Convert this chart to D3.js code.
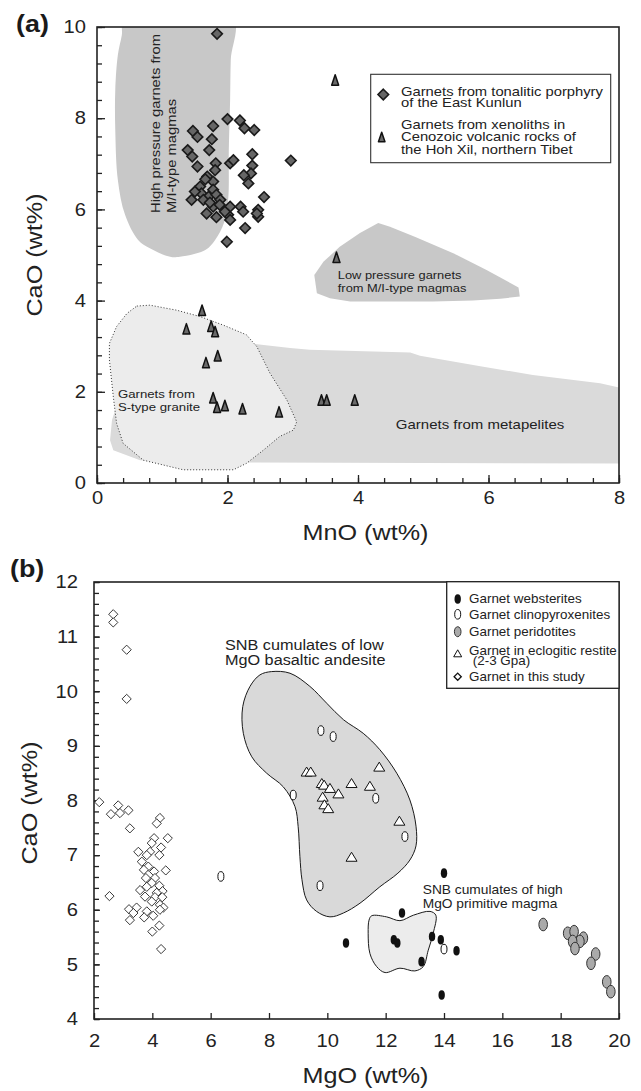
<!DOCTYPE html>
<html>
<head>
<meta charset="utf-8">
<script src="https://cdn.jsdelivr.net/npm/d3@7"></script>
<style>
  html, body { margin: 0; padding: 0; background: #fff; }
  svg { display: block; font-family: "Liberation Sans", Arial, Helvetica, sans-serif; }
</style>
</head>
<body>
<div id="chart"></div>
<script>
// ---------------- panel (a): CaO vs MnO ----------------
const aXTicks = [0, 2, 4, 6, 8];
const aYTicks = [0, 2, 4, 6, 8, 10];

// Garnets from tonalitic porphyry of the East Kunlun  [MnO, CaO]
const tonaliticGarnets = [
  [1.84, 9.85], [2.00, 7.98], [2.19, 7.95], [2.26, 7.78], [2.41, 7.74], [1.78, 7.83],
  [1.47, 7.72], [1.54, 7.59], [1.76, 7.54], [1.72, 7.30], [1.39, 7.30], [1.46, 7.16],
  [1.54, 6.94], [1.82, 7.01], [2.04, 7.01], [2.09, 7.08], [2.38, 7.21], [2.38, 6.96],
  [2.97, 7.07], [2.36, 6.79], [2.25, 6.75], [2.32, 6.57], [1.81, 6.86], [1.69, 6.72],
  [1.58, 6.50], [1.78, 6.61], [1.78, 6.43], [1.60, 6.35], [1.71, 6.28], [1.83, 6.32],
  [1.63, 6.21], [1.89, 6.21], [2.56, 6.27], [1.78, 6.06], [2.04, 6.06], [2.20, 6.06],
  [2.47, 5.99], [2.24, 5.95], [1.83, 5.83], [2.01, 5.88], [2.04, 5.77], [2.47, 5.84],
  [2.27, 5.59], [1.99, 5.29], [1.45, 6.21], [1.50, 6.39], [1.68, 5.91], [1.96, 5.95],
  [1.66, 6.66], [1.73, 6.15], [1.88, 6.10], [2.45, 5.91]
];

// Garnets from xenoliths, Hoh Xil  [MnO, CaO]
const hohXilGarnets = [
  [3.65, 8.84], [3.67, 4.95], [1.61, 3.79], [1.37, 3.38], [1.75, 3.44], [1.81, 3.32],
  [1.85, 2.79], [1.67, 2.64], [1.78, 1.87], [1.84, 1.66], [1.96, 1.70], [2.23, 1.63],
  [2.79, 1.56], [3.44, 1.82], [3.52, 1.82], [3.95, 1.82]
];

// reference fields, outlines in [MnO, CaO]
const hpField = [
  [0.42, 10.2], [2.08, 10.2], [2.05, 9.28], [2.04, 8.40], [2.02, 7.30], [2.01, 6.21],
  [1.95, 5.72], [1.81, 5.33], [1.66, 5.11], [1.27, 4.96], [1.12, 4.96], [0.81, 5.15],
  [0.63, 5.33], [0.43, 5.88], [0.32, 6.64], [0.28, 7.74], [0.28, 8.62], [0.32, 9.39],
  [0.38, 9.82]
];
const lpField = [
  [4.31, 5.70], [4.49, 5.62], [4.87, 5.40], [5.46, 5.04], [5.97, 4.67], [6.46, 4.29],
  [6.48, 4.09], [6.18, 4.04], [5.76, 4.00], [5.15, 3.98], [3.88, 3.98], [3.57, 4.05],
  [3.37, 4.16], [3.33, 4.56], [3.47, 4.85], [3.72, 5.18], [4.03, 5.48]
];
const metapeliteField = [
  [0.28, 1.60], [1.58, 2.48], [2.42, 3.05], [2.96, 2.96], [3.26, 2.92], [4.80, 2.86],
  [4.95, 2.79], [5.92, 2.55], [6.68, 2.37], [7.71, 2.19], [8.10, 2.06], [8.10, 0.43],
  [1.43, 0.45], [0.66, 0.50], [0.25, 0.72], [0.20, 0.94], [0.23, 1.38]
];
const sTypeField = [
  [0.61, 3.88], [0.81, 3.90], [1.22, 3.79], [1.58, 3.65], [1.94, 3.46], [2.29, 3.25],
  [2.45, 2.99], [2.65, 2.41], [2.91, 1.82], [3.06, 1.34], [3.01, 1.16], [2.80, 1.02],
  [2.55, 0.72], [2.29, 0.43], [2.09, 0.29], [1.32, 0.29], [0.71, 0.50], [0.40, 0.87],
  [0.30, 1.31], [0.25, 1.89], [0.19, 2.70], [0.19, 3.06], [0.30, 3.43], [0.46, 3.72]
];

const aLegend = [
  { symbol: "diamond", lines: ["Garnets from tonalitic porphyry", "of the East Kunlun"] },
  { symbol: "triangle", lines: ["Garnets from xenoliths in", "Cenozoic volcanic rocks of", "the Hoh Xil, northern Tibet"] }
];

// ---------------- panel (b): CaO vs MgO ----------------
const bXTicks = [2, 4, 6, 8, 10, 12, 14, 16, 18, 20];
const bYTicks = [4, 5, 6, 7, 8, 9, 10, 11, 12];

// [MgO, CaO]
const websterites = [
  [14.00, 6.67], [12.56, 5.94], [10.64, 5.39], [12.28, 5.45], [12.40, 5.39], [13.59, 5.51],
  [13.89, 5.45], [14.43, 5.25], [13.23, 5.05], [13.92, 4.44]
];
const clinopyroxenites = [
  [6.35, 6.61], [9.78, 9.28], [10.20, 9.17], [8.83, 8.10], [11.66, 8.04], [12.66, 7.34],
  [9.75, 6.44], [14.00, 5.28]
];
const peridotites = [
  [17.40, 5.73], [18.24, 5.57], [18.46, 5.60], [18.78, 5.48], [18.66, 5.42], [18.41, 5.42],
  [18.49, 5.29], [19.20, 5.19], [19.04, 5.02], [19.58, 4.68], [19.72, 4.50]
];
const eclogiticRestite = [
  [9.29, 8.53], [9.43, 8.53], [11.78, 8.62], [9.81, 8.32], [9.89, 8.29], [10.09, 8.23],
  [10.38, 8.13], [10.83, 8.32], [11.46, 8.27], [9.84, 8.07], [9.90, 7.93], [10.03, 7.86],
  [12.47, 7.63], [10.83, 6.97]
];
const thisStudy = [
  [2.66, 11.41], [2.66, 11.26], [3.12, 10.76], [3.12, 9.86], [2.18, 7.97], [2.58, 7.75],
  [2.83, 7.91], [2.89, 7.77], [3.18, 7.82], [3.23, 7.49], [4.26, 7.68], [4.15, 7.58],
  [4.53, 7.31], [4.06, 7.31], [3.98, 7.22], [4.30, 7.14], [3.92, 7.06], [3.52, 7.06],
  [3.81, 7.00], [4.24, 7.00], [3.64, 6.88], [3.86, 6.79], [4.46, 6.72], [3.71, 6.73],
  [4.06, 6.70], [3.78, 6.58], [4.09, 6.58], [3.98, 6.49], [4.24, 6.44], [3.58, 6.36],
  [3.81, 6.42], [4.35, 6.34], [4.15, 6.31], [3.75, 6.24], [4.09, 6.23], [4.34, 6.23],
  [3.98, 6.15], [4.26, 6.09], [2.53, 6.25], [3.46, 6.04], [3.20, 6.01], [3.81, 5.97],
  [4.38, 6.04], [4.26, 6.00], [3.35, 5.94], [3.23, 5.81], [3.72, 5.86], [4.03, 5.89],
  [4.24, 5.71], [4.00, 5.60], [4.30, 5.28]
];
const snbLowField = [
  [8.09, 10.36], [8.72, 10.33], [9.40, 10.09], [9.98, 9.78], [10.55, 9.48], [11.23, 9.23],
  [11.80, 8.93], [12.38, 8.50], [12.83, 8.01], [13.04, 7.53], [13.04, 7.17], [12.83, 6.91],
  [12.42, 6.67], [11.80, 6.42], [11.12, 6.12], [10.55, 5.94], [10.09, 5.87], [9.63, 5.97],
  [9.29, 6.18], [9.13, 6.55], [9.06, 6.97], [9.00, 7.52], [8.89, 7.89], [8.49, 8.25],
  [7.92, 8.50], [7.41, 8.80], [7.12, 9.23], [7.10, 9.72], [7.35, 10.09], [7.69, 10.30]
];
const snbHighField = [
  [11.52, 5.89], [12.03, 5.87], [12.49, 5.80], [12.95, 5.90], [13.52, 5.97], [13.72, 5.90],
  [13.63, 5.57], [13.46, 5.26], [13.29, 4.96], [13.00, 4.88], [12.49, 4.93], [11.98, 4.85],
  [11.69, 4.96], [11.46, 5.20], [11.40, 5.57], [11.43, 5.81]
];

const bLegend = [
  { symbol: "websterite", lines: ["Garnet websterites"] },
  { symbol: "clinopyroxenite", lines: ["Garnet clinopyroxenites"] },
  { symbol: "peridotite", lines: ["Garnet peridotites"] },
  { symbol: "eclogite", lines: ["Garnet in eclogitic restite", " (2-3 Gpa)"] },
  { symbol: "study", lines: ["Garnet in this study"] }
];

// ---------------- drawing ----------------
const S = 1.12;          // lettering in the source is a little wide
const INK = "#222";

const svg = d3.select("#chart").append("svg")
  .attr("width", 641)
  .attr("height", 1091);

function label(g, x, y, lines, size, lh, opt = {}) {
  const t = g.append("text")
    .attr("transform", `translate(${x},${y}) rotate(${opt.rotate || 0}) scale(${S},1)`)
    .attr("font-size", size)
    .attr("font-weight", opt.weight || null)
    .attr("text-anchor", opt.anchor || "start")
    .attr("fill", opt.fill || INK);
  lines.forEach((s, i) => t.append("tspan").attr("x", 0).attr("y", i * lh).text(s));
  return t;
}

const diamondPath = r => `M0,${-r}L${r},0L0,${r}L${-r},0Z`;
const trianglePath = (w, h) => `M0,${-h / 2}L${w / 2},${h / 2}L${-w / 2},${h / 2}Z`;

function axes(g, x, y, opt) {
  const [x0, x1] = x.range(), [y0, y1] = y.range();
  // minor ticks first
  if (opt.yMinor) {
    g.append("g").attr("transform", `translate(${x0},0)`)
      .call(d3.axisLeft(y).tickValues(opt.yMinor).tickSize(-opt.minorLen).tickFormat(""))
      .call(s => s.select(".domain").remove());
  }
  if (opt.xMinor) {
    g.append("g").attr("transform", `translate(0,${y0})`)
      .call(d3.axisBottom(x).tickValues(opt.xMinor).tickSize(-opt.minorLen).tickFormat(""))
      .call(s => s.select(".domain").remove());
  }
  g.append("g").attr("transform", `translate(${x0},0)`)
    .call(d3.axisLeft(y).tickValues(opt.yTicks).tickSize(-opt.majorLen).tickPadding(opt.yPad).tickFormat(d3.format("d")))
    .call(s => s.select(".domain").remove())
    .call(s => s.selectAll("text").attr("x", -opt.yPad / S).attr("transform", `scale(${S},1)`));
  g.append("g").attr("transform", `translate(0,${y0})`)
    .call(d3.axisBottom(x).tickValues(opt.xTicks).tickSize(-opt.majorLen).tickPadding(opt.xPad).tickFormat(d3.format("d")))
    .call(s => s.select(".domain").remove())
    .call(s => s.selectAll("text").attr("transform", `scale(${S},1)`));
  g.selectAll(".tick line").attr("stroke", INK).attr("stroke-width", 1.3);
  g.selectAll(".tick text").attr("font-size", 18).attr("fill", INK).attr("font-family", null);
  g.append("rect")
    .attr("x", x0).attr("y", y1).attr("width", x1 - x0).attr("height", y0 - y1)
    .attr("fill", "none").attr("stroke", INK).attr("stroke-width", 1.6);
}

// ===== panel (a) =====
const xA = d3.scaleLinear().domain([0, 8]).range([97, 619]);
const yA = d3.scaleLinear().domain([0, 10]).range([483, 27]);
const lineA = d3.line().x(d => xA(d[0])).y(d => yA(d[1]));

svg.append("clipPath").attr("id", "clipA").append("rect")
  .attr("x", 97).attr("y", 27).attr("width", 522).attr("height", 456);
const gA = svg.append("g");
const fieldsA = gA.append("g").attr("clip-path", "url(#clipA)");

fieldsA.append("path").attr("d", lineA.curve(d3.curveLinearClosed)(metapeliteField)).attr("fill", "#dadada");
fieldsA.append("path").attr("d", lineA.curve(d3.curveLinearClosed)(sTypeField))
  .attr("fill", "#ececec").attr("stroke", "#333").attr("stroke-width", 1)
  .attr("stroke-dasharray", "1,2");
fieldsA.append("path").attr("d", lineA.curve(d3.curveCatmullRomClosed.alpha(0.5))(hpField)).attr("fill", "#c8c8c8");
fieldsA.append("path").attr("d", lineA.curve(d3.curveLinearClosed)(lpField)).attr("fill", "#c8c8c8");

label(gA, 160, 213, ["High pressure garnets from", "M/I-type magmas"], 13.2, 16, { rotate: -90 });
label(gA, xA(3.69), yA(4.47), ["Low pressure garnets", "from M/I-type magmas"], 11.5, 13.3);
label(gA, xA(0.32), yA(1.86), ["Garnets from", "S-type granite"], 11.8, 12.4);
label(gA, xA(4.58), yA(1.18), ["Garnets from metapelites"], 13.4, 14);

axes(gA, xA, yA, {
  xTicks: aXTicks, yTicks: aYTicks,
  xMinor: d3.range(0, 8.001, 0.4), yMinor: d3.range(0, 10.001, 0.4),
  majorLen: 8, minorLen: 5, xPad: 8, yPad: 11
});

gA.append("g").selectAll("path").data(hohXilGarnets).join("path")
  .attr("transform", d => `translate(${xA(d[0])},${yA(d[1])})`)
  .attr("d", trianglePath(7, 10.5))
  .attr("fill", "#6a6a6a").attr("stroke", "#111").attr("stroke-width", 1.5).attr("stroke-linejoin", "round");

gA.append("g").selectAll("path").data(tonaliticGarnets).join("path")
  .attr("transform", d => `translate(${xA(d[0])},${yA(d[1])})`)
  .attr("d", diamondPath(5.3))
  .attr("fill", "#666").attr("stroke", "#1a1a1a").attr("stroke-width", 1.6);

// legend (a)
const legA = gA.append("g");
legA.append("rect").attr("x", 370.7).attr("y", 74.3).attr("width", 240).attr("height", 88.4)
  .attr("fill", "#fff").attr("stroke", "#333").attr("stroke-width", 1.1);
legA.append("path").attr("transform", "translate(383.3,94.5)").attr("d", diamondPath(5.3))
  .attr("fill", "#666").attr("stroke", "#1a1a1a").attr("stroke-width", 1.6);
label(legA, 401, 96, aLegend[0].lines, 13.2, 11.3);
legA.append("path").attr("transform", "translate(381.7,137)").attr("d", trianglePath(6.5, 9.5))
  .attr("fill", "#6a6a6a").attr("stroke", "#111").attr("stroke-width", 1.5).attr("stroke-linejoin", "round");
label(legA, 401, 129, aLegend[1].lines, 13.2, 12.5);

label(gA, 365.5, 540, ["MnO (wt%)"], 22.5, 0, { anchor: "middle" });
label(gA, 42, 255, ["CaO (wt%)"], 22.5, 0, { anchor: "middle", rotate: -90 });
label(gA, 16, 32, ["(a)"], 24, 0, { weight: "bold", fill: "#1a1a1a" });

// ===== panel (b) =====
const xB = d3.scaleLinear().domain([2, 20]).range([94, 619]);
const yB = d3.scaleLinear().domain([4, 12]).range([1019, 582]);
const lineB = d3.line().x(d => xB(d[0])).y(d => yB(d[1])).curve(d3.curveCatmullRomClosed.alpha(0.5));

const gB = svg.append("g");
gB.append("path").attr("d", lineB(snbLowField))
  .attr("fill", "#d9d9d9").attr("stroke", "#1a1a1a").attr("stroke-width", 1);
gB.append("path").attr("d", lineB(snbHighField))
  .attr("fill", "#ececec").attr("stroke", "#1a1a1a").attr("stroke-width", 1);

label(gB, xB(6.49), yB(10.76), ["SNB cumulates of low", "MgO basaltic andesite"], 14.5, 15.7);
label(gB, xB(13.27), yB(6.28), ["SNB cumulates of high", "MgO primitive magma"], 12.3, 13.6);

axes(gB, xB, yB, {
  xTicks: bXTicks, yTicks: bYTicks,
  yMinor: d3.range(4, 12.001, 0.2),
  majorLen: 6, minorLen: 5, xPad: 15, yPad: 16
});

gB.append("g").selectAll("path").data(thisStudy).join("path")
  .attr("transform", d => `translate(${xB(d[0])},${yB(d[1])})`)
  .attr("d", diamondPath(4.6))
  .attr("fill", "#fff").attr("stroke", "#222").attr("stroke-width", 0.9);

gB.append("g").selectAll("ellipse").data(clinopyroxenites).join("ellipse")
  .attr("cx", d => xB(d[0])).attr("cy", d => yB(d[1])).attr("rx", 3).attr("ry", 4.8)
  .attr("fill", "#fff").attr("stroke", "#111").attr("stroke-width", 1);

gB.append("g").selectAll("ellipse").data(websterites).join("ellipse")
  .attr("cx", d => xB(d[0])).attr("cy", d => yB(d[1])).attr("rx", 3.2).attr("ry", 4.8)
  .attr("fill", "#111");

gB.append("g").selectAll("ellipse").data(peridotites).join("ellipse")
  .attr("cx", d => xB(d[0])).attr("cy", d => yB(d[1])).attr("rx", 4.3).attr("ry", 6.3)
  .attr("fill", "#aaa").attr("stroke", "#333").attr("stroke-width", 1);

gB.append("g").selectAll("path").data(eclogiticRestite).join("path")
  .attr("transform", d => `translate(${xB(d[0])},${yB(d[1])})`)
  .attr("d", trianglePath(11, 9))
  .attr("fill", "#fff").attr("stroke", "#111").attr("stroke-width", 1);

// legend (b)
const legB = gB.append("g");
legB.append("rect").attr("x", 446.7).attr("y", 581.7).attr("width", 172.3).attr("height", 106.6)
  .attr("fill", "#fff").attr("stroke", "#222").attr("stroke-width", 1.3);
const bSymY = [599, 614.3, 631.7, 653.3, 676.7];
const bTextY = [603, 618.5, 636, 654.5, 681];
bLegend.forEach((e, i) => {
  const cy = bSymY[i];
  if (e.symbol === "websterite") {
    legB.append("ellipse").attr("cx", 457.7).attr("cy", cy).attr("rx", 3.2).attr("ry", 4.8).attr("fill", "#111");
  } else if (e.symbol === "clinopyroxenite") {
    legB.append("ellipse").attr("cx", 457.7).attr("cy", cy).attr("rx", 3).attr("ry", 4.8)
      .attr("fill", "#fff").attr("stroke", "#111");
  } else if (e.symbol === "peridotite") {
    legB.append("ellipse").attr("cx", 457.7).attr("cy", cy).attr("rx", 3.3).attr("ry", 5)
      .attr("fill", "#aaa").attr("stroke", "#333");
  } else if (e.symbol === "eclogite") {
    legB.append("path").attr("transform", `translate(457.7,${cy})`).attr("d", trianglePath(8, 7))
      .attr("fill", "#fff").attr("stroke", "#111");
  } else {
    legB.append("path").attr("transform", `translate(457.7,${cy})`).attr("d", diamondPath(3.6))
      .attr("fill", "#fff").attr("stroke", "#111").attr("stroke-width", 1.3);
  }
  label(legB, 469, bTextY[i], e.lines, 12, 10);
});

label(gB, 365.5, 1083, ["MgO (wt%)"], 22.5, 0, { anchor: "middle" });
label(gB, 37, 803, ["CaO (wt%)"], 22.5, 0, { anchor: "middle", rotate: -90 });
label(gB, 10, 576.5, ["(b)"], 24, 0, { weight: "bold", fill: "#1a1a1a" });
</script>
</body>
</html>
